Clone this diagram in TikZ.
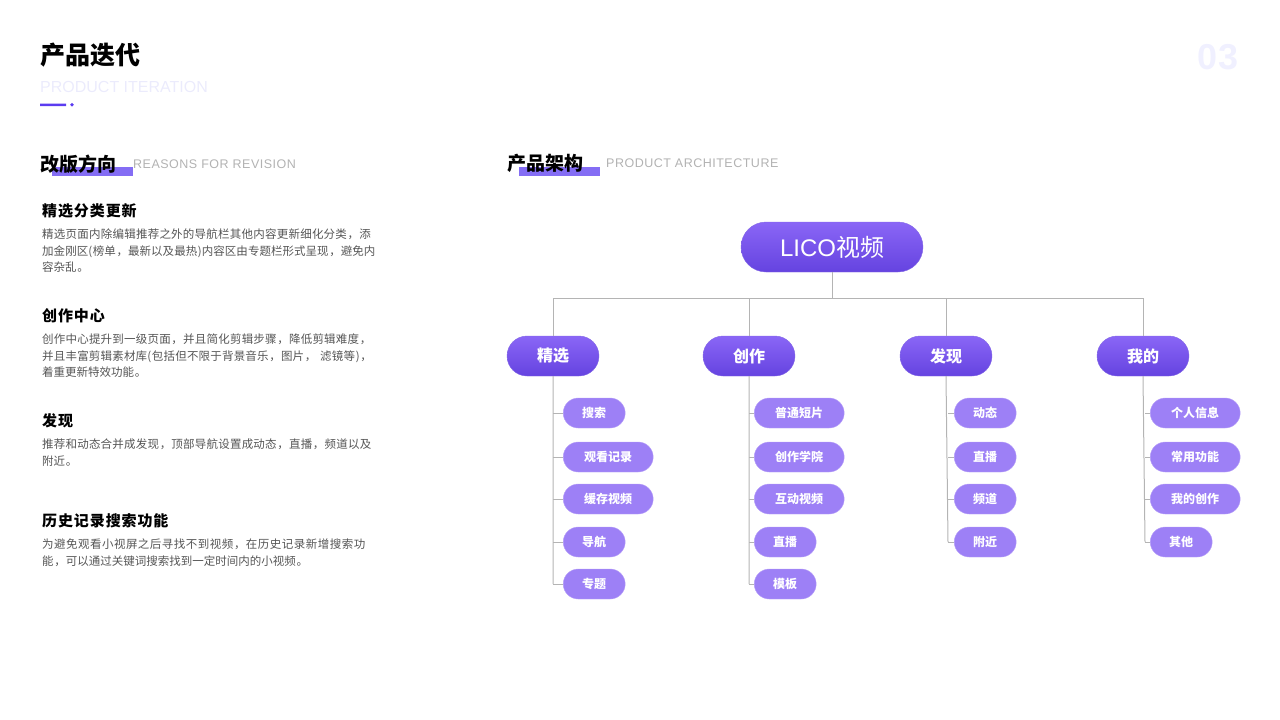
\documentclass[tikz,border=0pt]{standalone}
\usepackage{fontspec}
\setmainfont{Noto Sans CJK SC}
\newfontfamily\spaced[LetterSpace=6]{Noto Sans CJK SC}
\newfontfamily\lat{Liberation Sans}
\newfontfamily\latsp[LetterSpace=4]{Liberation Sans}
\XeTeXlinebreaklocale "zh"
\XeTeXlinebreakskip=0pt plus 1pt
\usetikzlibrary{positioning}
\definecolor{ptop}{HTML}{8A66F6}
\definecolor{pbot}{HTML}{6543E0}
\definecolor{pchild}{HTML}{9D80F6}
\definecolor{pbord}{HTML}{B8A2F8}
\definecolor{lnc}{HTML}{B4B4B4}
\definecolor{txg}{HTML}{555555}
\definecolor{accent}{HTML}{5B3CF0}
\tikzset{
 x=1pt,y=-1pt,
 rootbox/.style={rounded corners=25pt,minimum width=182pt,minimum height=50pt,top color=ptop,bottom color=pbot,draw=pbot!80,text=white,font=\fontsize{24}{24}\selectfont,inner sep=0},
 lvlbox/.style={rounded corners=20pt,minimum width=92pt,minimum height=40pt,top color=ptop,bottom color=pbot,draw=pbot!80,text=white,font=\fontsize{16}{16}\selectfont\bfseries,inner sep=0},
 leaf/.style={rounded corners=15pt,minimum height=30pt,fill=pchild,draw=pbord,text=white,font=\fontsize{12}{12}\selectfont\bfseries,inner sep=0,anchor=west},
 leafs/.style={leaf,minimum width=62pt},
 leafl/.style={leaf,minimum width=90pt},
 conn/.style={draw=lnc,line width=1pt},
 h1/.style={anchor=west,font=\spaced\fontsize{15}{15}\selectfont\bfseries,text=black},
 body/.style={anchor=north west,align=left,text width=334pt,font=\spaced\fontsize{11.5}{16.5}\selectfont,text=txg,inner sep=0},
}
\begin{document}
\begin{tikzpicture}
\useasboundingbox (0,0) rectangle (1280,720);
% header
\node[anchor=west,inner sep=0,font=\fontsize{25}{25}\selectfont\bfseries\itshape] (title) at (40,55) {产品迭代};
\node[anchor=west,inner sep=0,text=black!12!blue!8!white,font=\lat\fontsize{16}{16}\selectfont] (sub) at (40,87) {PRODUCT ITERATION};
\fill[accent] (40,103.5) rectangle (66,106) (72,104.75) circle (1.8);
\node[text=blue!6!white,font=\lat\fontsize{36}{36}\selectfont\bfseries,inner sep=0] (num) at (1218,57) {03};
% section headers
\fill[accent!75] (52,167) rectangle (133,176);
\node[anchor=west,inner sep=0,font=\fontsize{19}{19}\selectfont\bfseries\itshape] (s1) at (40,164) {改版方向};
\node[anchor=west,inner sep=0,text=black!30,font=\latsp\fontsize{12.5}{12.5}\selectfont] (s1e) at (133,164) {REASONS FOR REVISION};
\fill[accent!75] (519,167) rectangle (600,176);
\node[anchor=west,inner sep=0,font=\fontsize{19}{19}\selectfont\bfseries\itshape] (s2) at (507,163) {产品架构};
\node[anchor=west,inner sep=0,text=black!30,font=\latsp\fontsize{12.5}{12.5}\selectfont] (s2e) at (606,163) {PRODUCT ARCHITECTURE};
% left text
\node[h1,inner sep=0] (a1) at (42,211) {精选分类更新};
\node[body] (b1) at (42,229) {精选页面内除编辑推荐之外的导航栏其他内容更新细化分类，添加金刚区(榜单，最新以及最热)内容区由专题栏形式呈现，避免内容杂乱。};
\node[h1,inner sep=0] (a2) at (42,316) {创作中心};
\node[body] (b2) at (42,334) {创作中心提升到一级页面，并且简化剪辑步骤，降低剪辑难度，并且丰富剪辑素材库(包括但不限于背景音乐，图片，\ 滤镜等)，着重更新特效功能。};
\node[h1,inner sep=0] (a3) at (42,421) {发现};
\node[body] (b3) at (42,439) {推荐和动态合并成发现，顶部导航设置成动态，直播，频道以及附近。};
\node[h1,inner sep=0] (a4) at (42,521) {历史记录搜索功能};
\node[body] (b4) at (42,539) {为避免观看小视屏之后寻找不到视频，在历史记录新增搜索功能，可以通过关键词搜索找到一定时间内的小视频。};
% tree
\node[rootbox] (root) at (832,247) {\lat LICO\rmfamily 视频};
\coordinate (j) at (832,298);
\coordinate (jl) at (553,298);
\coordinate (jr) at (1143,298);
\node[lvlbox] (c1) at (553,356) {精选};
\node[lvlbox] (c2) at (749,356) {创作};
\node[lvlbox] (c3) at (946,356) {发现};
\node[lvlbox] (c4) at (1143,356) {我的};
\draw[conn] (root) -- (j) (jl) -- (jr);
\foreach \c/\x in {c1/553,c2/749,c3/946,c4/1143} \draw[conn] (\x,298) -- (\c);
% children
\node[leafs] (l11) at (563,413) {搜索};
\node[leafl] (l12) at (563,457) {观看记录};
\node[leafl] (l13) at (563,499) {缓存视频};
\node[leafs] (l14) at (563,542) {导航};
\node[leafs] (l15) at (563,584) {专题};
\node[leafl] (l21) at (754,413) {普通短片};
\node[leafl] (l22) at (754,457) {创作学院};
\node[leafl] (l23) at (754,499) {互动视频};
\node[leafs] (l24) at (754,542) {直播};
\node[leafs] (l25) at (754,584) {模板};
\node[leafs] (l31) at (954,413) {动态};
\node[leafs] (l32) at (954,457) {直播};
\node[leafs] (l33) at (954,499) {频道};
\node[leafs] (l34) at (954,542) {附近};
\node[leafl] (l41) at (1150,413) {个人信息};
\node[leafl] (l42) at (1150,457) {常用功能};
\node[leafl] (l43) at (1150,499) {我的创作};
\node[leafs] (l44) at (1150,542) {其他};
\draw[conn] (c1.south) -- (553,584) (c2.south) -- (749,584) (c3.south) -- (948,542) (c4.south) -- (1145,542);
\foreach \n in {11,12,13,14,15} \draw[conn] (553,0 |- l\n.west) -- (l\n.west);
\foreach \n in {21,22,23,24,25} \draw[conn] (749,0 |- l\n.west) -- (l\n.west);
\foreach \n in {31,32,33,34} \draw[conn] (948,0 |- l\n.west) -- (l\n.west);
\foreach \n in {41,42,43,44} \draw[conn] (1145,0 |- l\n.west) -- (l\n.west);
\end{tikzpicture}
\end{document}
